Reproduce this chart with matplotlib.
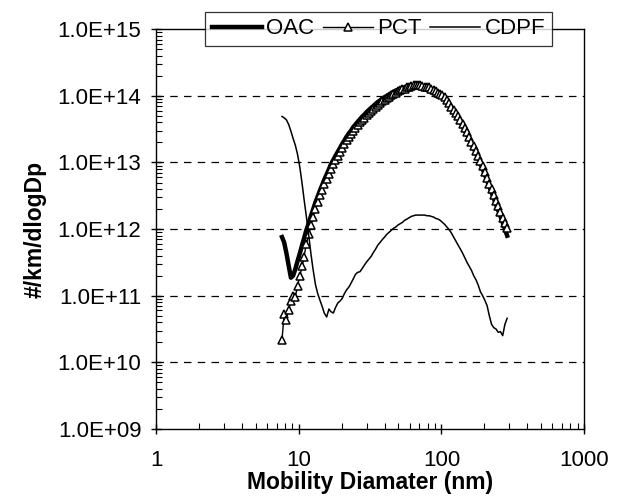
import matplotlib
matplotlib.use("Agg")
import numpy as np
import matplotlib.pyplot as plt
from matplotlib.ticker import LogLocator, FixedLocator, FuncFormatter, NullFormatter

plt.rcParams['font.family'] = ['Liberation Sans', 'DejaVu Sans']

# mobility diameter channels (nm), 64 per decade
diam = [7.64, 7.91, 8.20, 8.51, 8.82, 9.14, 9.47, 9.82, 10.2, 10.6, 10.9, 11.3,
        11.8, 12.2, 12.6, 13.1, 13.6, 14.1, 14.6, 15.1, 15.7, 16.3, 16.8, 17.5,
        18.1, 18.8, 19.5, 20.2, 20.9, 21.7, 22.5, 23.3, 24.1, 25.0, 25.9, 26.9,
        27.9, 28.9, 30.0, 31.1, 32.2, 33.4, 34.6, 35.9, 37.2, 38.5, 40.0, 41.4,
        42.9, 44.5, 46.1, 47.8, 49.6, 51.4, 53.3, 55.2, 57.3, 59.4, 61.5, 63.8,
        66.1, 68.5, 71.0, 73.7, 76.4, 79.1, 82.0, 85.1, 88.2, 91.4, 94.7, 98.2,
        101.8, 105.5, 109.4, 113.4, 117.6, 121.9, 126.3, 131.0, 135.8, 140.7,
        145.9, 151.2, 156.8, 162.5, 168.5, 174.7, 181.1, 187.7, 194.6, 201.7,
        209.1, 216.7, 224.7, 232.9, 241.4, 250.3, 259.5, 269.0, 278.8, 289.0]

# log10 of #/km/dlogDp
oac_log = [11.88, 11.80, 11.64, 11.45, 11.27, 11.30, 11.40, 11.52, 11.64, 11.77,
           11.86, 11.98, 12.10, 12.20, 12.29, 12.40, 12.49, 12.58, 12.66, 12.74,
           12.82, 12.90, 12.97, 13.04, 13.10, 13.16, 13.22, 13.28, 13.33, 13.39,
           13.44, 13.48, 13.53, 13.57, 13.61, 13.65, 13.69, 13.72, 13.76, 13.79,
           13.82, 13.85, 13.88, 13.91, 13.93, 13.96, 13.98, 14.00, 14.02, 14.04,
           14.06, 14.08, 14.09, 14.11, 14.12, 14.13, 14.14, 14.15, 14.15, 14.16,
           14.16, 14.16, 14.16, 14.15, 14.14, 14.13, 14.12, 14.10, 14.08, 14.06,
           14.04, 14.02, 13.99, 13.96, 13.92, 13.87, 13.82, 13.77, 13.72, 13.66,
           13.61, 13.55, 13.48, 13.42, 13.35, 13.28, 13.21, 13.14, 13.06, 12.98,
           12.90, 12.82, 12.73, 12.64, 12.55, 12.46, 12.37, 12.28, 12.19, 12.10,
           12.00, 11.90]
pct_log = [10.34, 10.72, 10.64, 10.79, 10.92, 10.99, 10.98, 11.15, 11.30, 11.45,
           11.58, 11.78, 11.92, 12.06, 12.18, 12.30, 12.41, 12.51, 12.59, 12.67,
           12.75, 12.83, 12.90, 12.97, 13.04, 13.10, 13.16, 13.22, 13.27, 13.33,
           13.38, 13.42, 13.47, 13.52, 13.56, 13.60, 13.64, 13.67, 13.71, 13.74,
           13.77, 13.81, 13.84, 13.87, 13.89, 13.92, 13.94, 13.97, 13.99, 14.01,
           14.03, 14.05, 14.07, 14.09, 14.10, 14.11, 14.13, 14.14, 14.15, 14.16,
           14.16, 14.16, 14.16, 14.15, 14.14, 14.13, 14.13, 14.11, 14.09, 14.07,
           14.05, 14.03, 14.01, 13.98, 13.94, 13.89, 13.84, 13.79, 13.74, 13.69,
           13.64, 13.58, 13.51, 13.45, 13.38, 13.31, 13.24, 13.17, 13.10, 13.02,
           12.94, 12.86, 12.77, 12.68, 12.60, 12.51, 12.42, 12.34, 12.25, 12.16,
           12.09, 12.02]
cdpf_log = [13.69, 13.67, 13.64, 13.57, 13.47, 13.36, 13.26, 13.12, 12.92, 12.66,
            12.45, 12.20, 11.88, 11.62, 11.40, 11.17, 11.03, 10.93, 10.84, 10.74,
            10.68, 10.80, 10.76, 10.74, 10.82, 10.89, 10.92, 10.96, 11.03, 11.09,
            11.13, 11.19, 11.25, 11.32, 11.35, 11.36, 11.41, 11.46, 11.51, 11.55,
            11.59, 11.65, 11.70, 11.76, 11.80, 11.84, 11.88, 11.92, 11.95, 11.98,
            12.01, 12.03, 12.06, 12.08, 12.10, 12.13, 12.15, 12.17, 12.19, 12.20,
            12.21, 12.21, 12.21, 12.21, 12.21, 12.20, 12.20, 12.19, 12.18, 12.16,
            12.15, 12.13, 12.10, 12.07, 12.03, 11.99, 11.94, 11.88, 11.82, 11.76,
            11.70, 11.64, 11.57, 11.50, 11.44, 11.38, 11.30, 11.24, 11.16, 11.06,
            11.00, 10.93, 10.85, 10.70, 10.57, 10.52, 10.50, 10.45, 10.46, 10.40,
            10.57, 10.66]

x_ticks = [1, 10, 100, 1000]
y_ticks = [1e9, 1e10, 1e11, 1e12, 1e13, 1e14, 1e15]

oac = 10.0 ** np.array(oac_log)
pct = 10.0 ** np.array(pct_log)
cdpf = 10.0 ** np.array(cdpf_log)

fig = plt.figure(figsize=(6.24, 5.04), dpi=100)
ax = fig.add_axes([0.25, 0.149, 0.686, 0.793])

ax.plot(diam, oac, color='black', lw=3.2, label='OAC', zorder=3)
ax.plot(diam, pct, color='black', lw=1.0, marker='^', ms=6, mfc='white',
        mec='black', mew=1.1, label='PCT', zorder=4)
ax.plot(diam, cdpf, color='black', lw=1.1, label='CDPF', zorder=5)

ax.set_xscale('log')
ax.set_yscale('log')
ax.set_xlim(1, 1000)
ax.set_ylim(1e9, 1e15)

ax.xaxis.set_major_locator(FixedLocator(x_ticks))
ax.xaxis.set_minor_locator(LogLocator(base=10, subs=np.arange(2, 10), numticks=20))
ax.xaxis.set_major_formatter(FuncFormatter(lambda v, p: '%d' % round(v)))
ax.xaxis.set_minor_formatter(NullFormatter())
ax.yaxis.set_major_locator(FixedLocator(y_ticks))
ax.yaxis.set_minor_locator(LogLocator(base=10, subs=np.arange(2, 10), numticks=20))
ax.yaxis.set_major_formatter(FuncFormatter(lambda v, p: '%.1E' % v))
ax.yaxis.set_minor_formatter(NullFormatter())

ax.tick_params(which='major', direction='inout', length=7, width=1, labelsize=16,
               colors='black')
ax.tick_params(axis='x', which='major', pad=12)
ax.tick_params(axis='y', which='major', pad=7)
ax.tick_params(which='minor', direction='in', length=4, width=0.8)

for level in y_ticks[1:-1]:
    ax.axhline(level, color='black', lw=0.9, ls=(0, (6, 5)), zorder=1)

for sp in ax.spines.values():
    sp.set_color('black')
    sp.set_linewidth(1.0)

ax.set_xlabel('Mobility Diamater (nm)', fontsize=16.5, fontweight='bold', labelpad=0)
ax.set_ylabel('#/km/dlogDp', fontsize=16.5, fontweight='bold', labelpad=8)

leg = fig.legend(loc='center', bbox_to_anchor=(378.5 / 624, 1 - 29 / 504), ncol=3,
                 frameon=True, fancybox=False, edgecolor='black', fontsize=16,
                 handlelength=2.25, columnspacing=0.36, handletextpad=0.22,
                 borderpad=0.3, borderaxespad=0)
leg.get_frame().set_linewidth(0.9)

fig.savefig('out.png', dpi=100)
